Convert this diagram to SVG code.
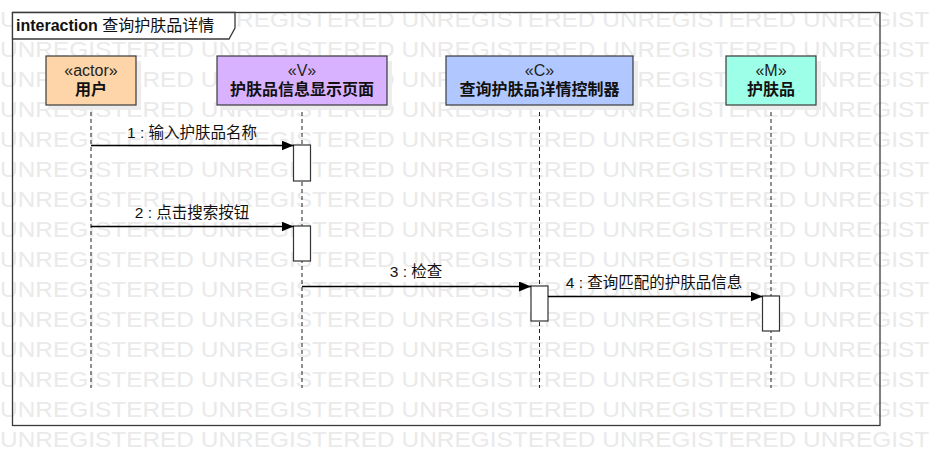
<svg xmlns="http://www.w3.org/2000/svg" width="930" height="476" viewBox="0 0 930 476">
<defs>
<style>
text{font-family:"Liberation Sans","Noto Sans CJK SC",sans-serif;}
.wm{font-size:22px;fill:#eaeaea;}
.frame{fill:none;stroke:#3a3a3a;stroke-width:1.3;}
.head{stroke:#3a3a3a;stroke-width:1.2;}
.shadow{fill:#ededed;}
.st{font-size:16px;fill:#222;text-anchor:middle;}
.nm{font-size:16px;font-weight:bold;fill:#111;text-anchor:middle;}
.life{stroke:#222;stroke-width:1;stroke-dasharray:4 3;fill:none;}
.act{fill:#fff;stroke:#333;stroke-width:1.2;}
.msg{stroke:#000;stroke-width:1.3;fill:none;marker-end:url(#arr);}
.lbl{font-size:15.5px;fill:#111;text-anchor:middle;}
</style>
<marker id="arr" viewBox="0 0 12 10" refX="12" refY="5" markerWidth="12" markerHeight="10" markerUnits="userSpaceOnUse" orient="auto">
<path d="M0,0 L12,5 L0,10 Z" fill="#000"/>
</marker>
</defs>
<rect width="930" height="476" fill="#fff"/>
<g id="watermark">
<text class="wm" x="0" y="27" textLength="997" lengthAdjust="spacingAndGlyphs">UNREGISTERED UNREGISTERED UNREGISTERED UNREGISTERED UNREGISTERED</text>
<text class="wm" x="0" y="57" textLength="997" lengthAdjust="spacingAndGlyphs">UNREGISTERED UNREGISTERED UNREGISTERED UNREGISTERED UNREGISTERED</text>
<text class="wm" x="0" y="87" textLength="997" lengthAdjust="spacingAndGlyphs">UNREGISTERED UNREGISTERED UNREGISTERED UNREGISTERED UNREGISTERED</text>
<text class="wm" x="0" y="117" textLength="997" lengthAdjust="spacingAndGlyphs">UNREGISTERED UNREGISTERED UNREGISTERED UNREGISTERED UNREGISTERED</text>
<text class="wm" x="0" y="147" textLength="997" lengthAdjust="spacingAndGlyphs">UNREGISTERED UNREGISTERED UNREGISTERED UNREGISTERED UNREGISTERED</text>
<text class="wm" x="0" y="177" textLength="997" lengthAdjust="spacingAndGlyphs">UNREGISTERED UNREGISTERED UNREGISTERED UNREGISTERED UNREGISTERED</text>
<text class="wm" x="0" y="207" textLength="997" lengthAdjust="spacingAndGlyphs">UNREGISTERED UNREGISTERED UNREGISTERED UNREGISTERED UNREGISTERED</text>
<text class="wm" x="0" y="237" textLength="997" lengthAdjust="spacingAndGlyphs">UNREGISTERED UNREGISTERED UNREGISTERED UNREGISTERED UNREGISTERED</text>
<text class="wm" x="0" y="267" textLength="997" lengthAdjust="spacingAndGlyphs">UNREGISTERED UNREGISTERED UNREGISTERED UNREGISTERED UNREGISTERED</text>
<text class="wm" x="0" y="297" textLength="997" lengthAdjust="spacingAndGlyphs">UNREGISTERED UNREGISTERED UNREGISTERED UNREGISTERED UNREGISTERED</text>
<text class="wm" x="0" y="327" textLength="997" lengthAdjust="spacingAndGlyphs">UNREGISTERED UNREGISTERED UNREGISTERED UNREGISTERED UNREGISTERED</text>
<text class="wm" x="0" y="357" textLength="997" lengthAdjust="spacingAndGlyphs">UNREGISTERED UNREGISTERED UNREGISTERED UNREGISTERED UNREGISTERED</text>
<text class="wm" x="0" y="387" textLength="997" lengthAdjust="spacingAndGlyphs">UNREGISTERED UNREGISTERED UNREGISTERED UNREGISTERED UNREGISTERED</text>
<text class="wm" x="0" y="417" textLength="997" lengthAdjust="spacingAndGlyphs">UNREGISTERED UNREGISTERED UNREGISTERED UNREGISTERED UNREGISTERED</text>
<text class="wm" x="0" y="447" textLength="997" lengthAdjust="spacingAndGlyphs">UNREGISTERED UNREGISTERED UNREGISTERED UNREGISTERED UNREGISTERED</text>
</g>
<g id="frame">
<rect class="frame" x="12.5" y="12.5" width="867.5" height="413"/>
<path d="M12.5,12.5 L235,12.5 L235,28 L229,39 L12.5,39 Z" fill="#fff" stroke="#3a3a3a" stroke-width="1.3"/>
<text x="16" y="31" font-size="16" fill="#111"><tspan font-weight="bold">interaction</tspan> 查询护肤品详情</text>
</g>
<g id="lifelines">
<line class="life" x1="91" y1="105" x2="91" y2="388"/>
<line class="life" x1="302" y1="105" x2="302" y2="388"/>
<line class="life" x1="539.5" y1="105" x2="539.5" y2="388"/>
<line class="life" x1="771" y1="105" x2="771" y2="388"/>
</g>
<g id="node-user">
<rect class="shadow" x="51" y="61" width="90" height="49"/>
<rect class="head" x="46" y="56" width="90" height="49" fill="#fed5a8"/>
<text class="st" x="91" y="76">«actor»</text>
<text class="nm" x="91" y="95">用户</text>
</g>
<g id="node-view">
<rect class="shadow" x="222" y="61" width="170" height="49"/>
<rect class="head" x="217" y="56" width="170" height="49" fill="#d9b2ff"/>
<text class="st" x="302" y="76">«V»</text>
<text class="nm" x="302" y="95">护肤品信息显示页面</text>
</g>
<g id="node-controller">
<rect class="shadow" x="451" y="61" width="187" height="49"/>
<rect class="head" x="446" y="56" width="187" height="49" fill="#b0c8ff"/>
<text class="st" x="539.5" y="76">«C»</text>
<text class="nm" x="539.5" y="95">查询护肤品详情控制器</text>
</g>
<g id="node-model">
<rect class="shadow" x="731" y="61" width="90" height="49"/>
<rect class="head" x="726" y="56" width="90" height="49" fill="#9effe8"/>
<text class="st" x="771" y="76">«M»</text>
<text class="nm" x="771" y="95">护肤品</text>
</g>
<g id="activations">
<rect class="act" x="293.5" y="145" width="17" height="36"/>
<rect class="act" x="293.5" y="226" width="17" height="35"/>
<rect class="act" x="531" y="286" width="17" height="35"/>
<rect class="act" x="762.5" y="296" width="17" height="35"/>
</g>
<g id="connectors">
<line class="msg" x1="91" y1="145.5" x2="293.5" y2="145.5"/>
<text class="lbl" x="192" y="138">1 : 输入护肤品名称</text>
<line class="msg" x1="91" y1="226.5" x2="293.5" y2="226.5"/>
<text class="lbl" x="192" y="218">2 : 点击搜索按钮</text>
<line class="msg" x1="302" y1="286.5" x2="531" y2="286.5"/>
<text class="lbl" x="416" y="277">3 : 检查</text>
<line class="msg" x1="548" y1="296.5" x2="762.5" y2="296.5"/>
<text class="lbl" x="654" y="288">4 : 查询匹配的护肤品信息</text>
</g>
</svg>
